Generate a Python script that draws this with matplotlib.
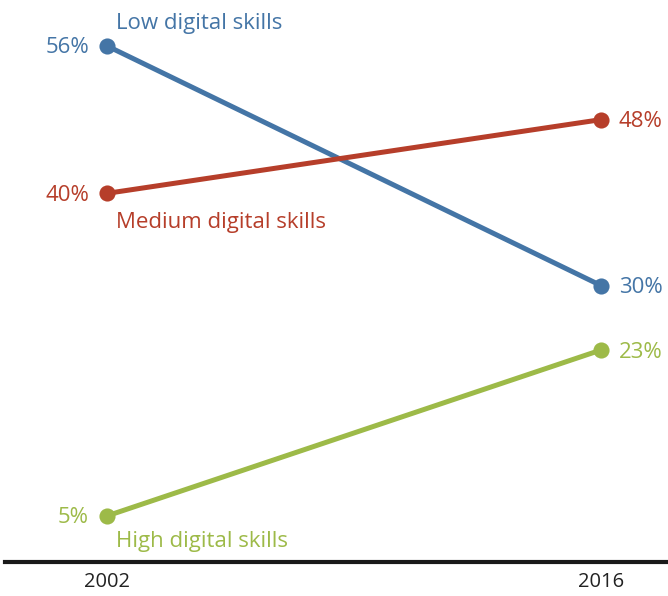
import matplotlib.pyplot as plt

plt.rcParams['font.family'] = ['Open Sans', 'DejaVu Sans']

years = [2002, 2016]
series = ['Low digital skills', 'Medium digital skills', 'High digital skills']
values = {
    'Low digital skills': [56, 30],
    'Medium digital skills': [40, 48],
    'High digital skills': [5, 23],
}
colors = {
    'Low digital skills': '#4475a6',
    'Medium digital skills': '#b63e2a',
    'High digital skills': '#9dba48',
}
# name placement: above or below the 2002 point (pixels)
name_offset = {
    'Low digital skills': 22,
    'Medium digital skills': -29,
    'High digital skills': -26,
}

fig = plt.figure(figsize=(6.68, 5.96), dpi=100)
ax = fig.add_axes([5 / 668, 34 / 596, 663 / 668, 562 / 596])

for name in series:
    v = values[name]
    c = colors[name]
    ax.plot(years, v, color=c, linewidth=3.6, solid_capstyle='round', zorder=2)
    ax.scatter(years, v, s=135, color=c, zorder=3, linewidths=0)
    ax.annotate(f'{v[0]}%', (years[0], v[0]), xytext=(-18, -2),
                textcoords='offset pixels', ha='right', va='center',
                color=c, fontsize=16)
    ax.annotate(f'{v[1]}%', (years[1], v[1]), xytext=(18, -2),
                textcoords='offset pixels', ha='left', va='center',
                color=c, fontsize=16)
    ax.annotate(name, (years[0], v[0]), xytext=(9, name_offset[name]),
                textcoords='offset pixels', ha='left', va='center',
                color=c, fontsize=16)

ax.set_xlim(1999.11, 2017.9)
ax.set_ylim(0, 60.98)
ax.set_yticks([])
ax.set_xticks(years)
ax.set_xticklabels([str(y) for y in years], fontsize=14.5, color='#222222')
ax.tick_params(axis='x', length=0, pad=7)
for side in ['top', 'right', 'left']:
    ax.spines[side].set_visible(False)
ax.spines['bottom'].set_linewidth(3)
ax.spines['bottom'].set_color('#1a1a1a')
ax.set_facecolor('none')

fig.savefig('out.png', dpi=100)
